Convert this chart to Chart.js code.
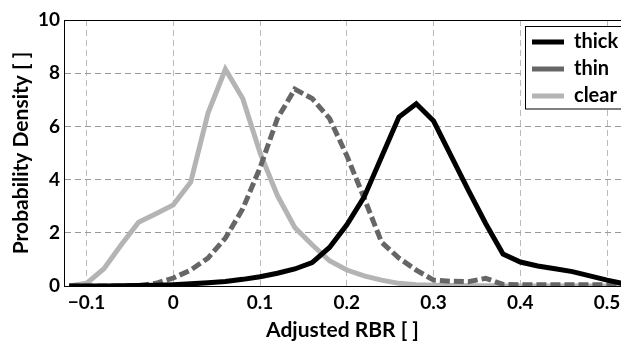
<!DOCTYPE html>
<html>
<head>
<meta charset="utf-8">
<script src="https://cdn.jsdelivr.net/npm/chart.js@4.4.0/dist/chart.umd.min.js"></script>
<style>
  html, body { margin: 0; padding: 0; background: #fff; }
  #wrap { width: 621px; height: 344px; }
</style>
</head>
<body>
<div id="wrap"><canvas id="myChart"></canvas></div>
<script>
// Adjusted RBR bins
const rbr = [-0.12, -0.10, -0.08, -0.06, -0.04, -0.02, 0, 0.02, 0.04, 0.06, 0.08,
  0.10, 0.12, 0.14, 0.16, 0.18, 0.20, 0.22, 0.24, 0.26, 0.28, 0.30, 0.32,
  0.34, 0.36, 0.38, 0.40, 0.42, 0.44, 0.46, 0.48, 0.50, 0.52];

// probability density per cloud class
const thick = [0, 0, 0, 0.01, 0.02, 0.03, 0.05, 0.08, 0.12, 0.17, 0.25,
  0.35, 0.48, 0.64, 0.88, 1.45, 2.3, 3.35, 4.85, 6.35, 6.85, 6.2, 4.9,
  3.6, 2.35, 1.2, 0.9, 0.75, 0.65, 0.54, 0.38, 0.22, 0.08];
const thin = [0, 0, 0, 0, 0.02, 0.1, 0.3, 0.6, 1.05, 1.8, 2.9,
  4.45, 6.3, 7.4, 7.05, 6.3, 4.9, 3.3, 1.65, 1.05, 0.6, 0.22, 0.18,
  0.16, 0.29, 0.06, 0.05, 0.05, 0.05, 0.05, 0.05, 0.05, 0.05];
const clear = [0, 0.1, 0.65, 1.55, 2.4, 2.72, 3.05, 3.9, 6.5, 8.15, 7.05,
  5.0, 3.4, 2.2, 1.55, 0.95, 0.6, 0.38, 0.22, 0.1, 0.05, 0.03, 0.02,
  0.01, 0.01, 0, 0, 0, 0, 0, 0, 0, 0];

const xTicks = [-0.1, 0, 0.1, 0.2, 0.3, 0.4, 0.5];
const xTickLabels = ['\u22120.1', '0', '0.1', '0.2', '0.3', '0.4', '0.5'];
const yTicks = [0, 2, 4, 6, 8, 10];
const yTickLabels = ['0', '2', '4', '6', '8', '10'];

const toPoints = (ys) => ys.map((y, i) => ({ x: rbr[i], y: y }));

// box round the plot + legend frame
const framePlugin = {
  id: 'frame',
  afterLayout(chart) {
    const lg = chart.legend;
    lg.left = 525; lg.top = 25;
    lg.right = lg.left + lg.width; lg.bottom = lg.top + lg.height;
  },
  afterDraw(chart) {
    const ctx = chart.ctx;
    const a = chart.chartArea;
    ctx.save();
    ctx.strokeStyle = '#000';
    ctx.lineWidth = 1;
    ctx.beginPath();
    ctx.moveTo(a.left, a.top + 0.5);
    ctx.lineTo(a.right, a.top + 0.5);
    ctx.stroke();
    // legend frame
    ctx.fillStyle = '#fff';
    ctx.fillRect(525, 26, 110, 83);
    ctx.strokeRect(525.5, 26.5, 110, 82.5);
    ctx.restore();
    chart.legend.draw(chart.chartArea);
  }
};

const tickFont = { family: 'Lato', weight: 'bold', size: 19 };
const titleFont = { family: 'Lato', weight: 'bold', size: 21, lineHeight: 1 };

new Chart(document.getElementById('myChart'), {
  type: 'line',
  data: {
    datasets: [{
      label: 'thick',
      data: toPoints(thick),
      borderColor: '#000000',
      borderWidth: 5
    }, {
      label: 'thin',
      data: toPoints(thin),
      borderColor: '#666666',
      borderWidth: 5,
      borderDash: [10, 4]
    }, {
      label: 'clear',
      data: toPoints(clear),
      borderColor: '#b4b4b4',
      borderWidth: 5
    }]
  },
  options: {
    responsive: true,
    maintainAspectRatio: false,
    animation: false,
    layout: { padding: { top: 20, left: 0, right: 0, bottom: 0 } },
    elements: { point: { radius: 0 }, line: { tension: 0 } },
    scales: {
      x: {
        type: 'linear',
        min: -0.126,
        max: 0.516,
        afterBuildTicks: (scale) => { scale.ticks = xTicks.map(v => ({ value: v })); },
        afterFit: (scale) => { scale.height = 58; scale.paddingLeft = 0; scale.paddingRight = 0; },
        ticks: {
          autoSkip: false,
          maxRotation: 0,
          padding: 5,
          color: '#000',
          font: tickFont,
          callback: (v, i) => xTickLabels[i]
        },
        grid: { color: '#bbbbbb', lineWidth: 1, drawTicks: false },
        border: { display: true, color: '#000', width: 1, dash: [6, 4] },
        title: {
          display: true,
          text: 'Adjusted RBR [ ]',
          color: '#000',
          font: titleFont,
          padding: { top: 0, bottom: 3 }
        }
      },
      y: {
        min: 0,
        max: 10,
        afterBuildTicks: (scale) => { scale.ticks = yTicks.map(v => ({ value: v })); },
        afterFit: (scale) => { scale.width = 64; },
        ticks: {
          padding: 4,
          color: '#000',
          font: tickFont,
          callback: (v, i) => yTickLabels[i]
        },
        grid: { color: '#999999', lineWidth: 1, drawTicks: false },
        border: { display: true, color: '#000', width: 1, dash: [6, 4] },
        title: {
          display: true,
          text: 'Probability Density [ ]',
          color: '#000',
          font: titleFont,
          padding: { top: 11, bottom: 0 }
        }
      }
    },
    plugins: {
      tooltip: { enabled: false },
      legend: {
        position: 'chartArea',
        align: 'start',
        labels: {
          usePointStyle: true,
          pointStyle: 'line',
          pointStyleWidth: 32,
          padding: 7,
          color: '#000',
          font: { family: 'Lato', weight: 'bold', size: 20, lineHeight: 1 }
        }
      }
    }
  },
  plugins: [framePlugin]
});
</script>
</body>
</html>
